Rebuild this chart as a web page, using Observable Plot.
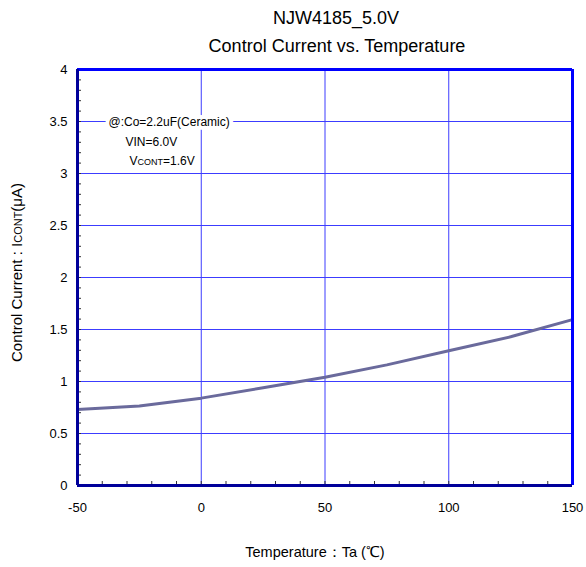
<!DOCTYPE html>
<html>
<head>
<meta charset="utf-8">
<script src="https://cdn.jsdelivr.net/npm/d3@7"></script>
<script src="https://cdn.jsdelivr.net/npm/@observablehq/plot@0.6"></script>
<style>
  html, body { margin: 0; padding: 0; background: #fff; }
</style>
</head>
<body>
<div id="chart"></div>
<script>
// ---- data ----
const temps = [-50, -25, 0, 25, 50, 75, 100, 125, 150];
const icont = [0.73, 0.765, 0.84, 0.94, 1.04, 1.16, 1.295, 1.43, 1.595];
const xTicks = [-50, 0, 50, 100, 150];
const xGrid = [0, 50, 100];
const xMinor = d3.range(-40, 150, 10);
const yTicks = [0, 0.5, 1, 1.5, 2, 2.5, 3, 3.5, 4];
const yGrid = [0.5, 1, 1.5, 2, 2.5, 3, 3.5];
const yMinor = d3.range(1, 40).map(i => i / 10);
const titleLines = ["NJW4185_5.0V", "Control Current vs. Temperature"];
const xLabel = "Temperature：Ta (℃)";
const yLabel = "Control Current : ICONT(μA)";
const notes = ["@:Co=2.2uF(Ceramic)", "VIN=6.0V", "VCONT=1.6V"];

const table = temps.map((t, i) => ({t, v: icont[i]}));

const W = 586, H = 567, mT = 69, mB = 82, mL = 77, mR = 14;
const pw = W - mL - mR, ph = H - mT - mB;
const grid = "#3c3cff", navy = "#00009a", blue = "#0000ff";
const font = "'Liberation Sans', Arial, sans-serif";
const T = {fill: "#000", lineAnchor: "middle"};

const chart = Plot.plot({
  width: W, height: H,
  marginTop: mT, marginBottom: mB, marginLeft: mL, marginRight: mR,
  style: {fontFamily: font, background: "#fff", color: "#000"},
  x: {domain: [xTicks[0], xTicks[xTicks.length - 1]]},
  y: {domain: [yTicks[0], yTicks[yTicks.length - 1]]},
  marks: [
    Plot.ruleY(yGrid, {y: d => d, stroke: grid, strokeWidth: 1}),
    Plot.ruleX(xGrid, {x: d => d, stroke: grid, strokeWidth: 1}),
    Plot.tickY(yMinor, {y: d => d, insetRight: pw - 4, stroke: "#333", strokeWidth: 1}),
    Plot.tickX(xMinor, {x: d => d, insetTop: ph - 4, stroke: "#333", strokeWidth: 1}),
    Plot.axisY(yTicks, {tickSize: 0, tickPadding: 10, fontSize: 13, tickFormat: d => String(d), label: null}),
    Plot.axisX(xTicks, {tickSize: 0, tickPadding: 17, fontSize: 13, tickFormat: d => String(d), label: null}),
    Plot.line(table, {x: "t", y: "v", stroke: "#6a6a9c", strokeWidth: 3}),
    Plot.ruleY([yTicks[yTicks.length - 1]], {stroke: blue, strokeWidth: 3}),
    Plot.ruleX([xTicks[xTicks.length - 1]], {stroke: blue, strokeWidth: 3}),
    Plot.ruleX([xTicks[0]], {stroke: navy, strokeWidth: 3}),
    Plot.ruleY([yTicks[0]], {stroke: navy, strokeWidth: 3}),
    // annotations
    Plot.text([notes[0]], {...T, frameAnchor: "top-left", dx: 31, dy: 53, textAnchor: "start", fontSize: 12, stroke: "#fff", strokeWidth: 8}),
    Plot.text([notes[1]], {...T, frameAnchor: "top-left", dx: 48, dy: 73, textAnchor: "start", fontSize: 12}),
    Plot.text([notes[2]], {...T, frameAnchor: "top-left", dx: 52, dy: 92, textAnchor: "start", fontSize: 12}),
    // titles
    Plot.text([titleLines[0]], {...T, frameAnchor: "top", textAnchor: "middle", dx: 11, dy: -51, fontSize: 18}),
    Plot.text([titleLines[1]], {...T, frameAnchor: "top", textAnchor: "middle", dx: 12, dy: -23, fontSize: 18}),
    // axis labels
    Plot.text([xLabel], {...T, frameAnchor: "bottom", textAnchor: "middle", dx: -10, dy: 67, fontSize: 14.5}),
    Plot.text([yLabel], {...T, frameAnchor: "left", textAnchor: "middle", dx: -60, dy: -5, rotate: -90, fontSize: 15})
  ]
});

// small-caps subscripts
const svg = d3.select(chart);
svg.selectAll("text").filter(function () { return this.textContent === notes[2]; })
  .each(function () {
    const t = d3.select(this); t.text(null);
    t.append("tspan").text("V");
    t.append("tspan").attr("font-size", 9).text("CONT");
    t.append("tspan").text("=1.6V");
  });
svg.selectAll("text").filter(function () { return this.textContent === yLabel; })
  .each(function () {
    const t = d3.select(this); t.text(null);
    t.append("tspan").text("Control Current : I");
    t.append("tspan").attr("font-size", 11).text("CONT");
    t.append("tspan").text("(μA)");
  });

document.getElementById("chart").appendChild(chart);
</script>
</body>
</html>
